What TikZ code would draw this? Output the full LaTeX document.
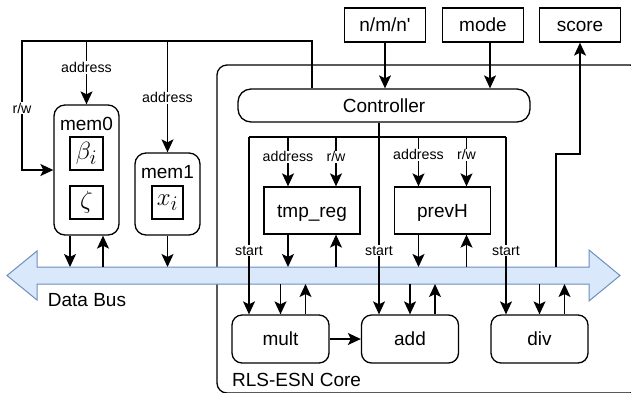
\documentclass[tikz,border=0pt]{standalone}
\usepackage{fontspec}
\setmainfont{Liberation Sans}[Ligatures=TeXOff]
\usepackage{tikz}
\usetikzlibrary{arrows.meta, positioning, calc}

\definecolor{busfill}{HTML}{DAE8FC}
\definecolor{busdraw}{HTML}{6C8EBF}

\begin{document}
\begin{tikzpicture}[
    x=1pt, y=-1pt,
    every node/.style={font=\fontsize{19}{22}\selectfont},
    wire/.style={line width=1.3pt},
    arr/.style={-{Stealth[length=13pt, width=12pt, inset=3pt]}, line width=1.3pt},
    box/.style={rectangle, draw, line width=1.3pt, inner sep=0pt,
                text height=13.6pt, text depth=0pt},
    io/.style={box, minimum width=81pt, minimum height=34pt},
    reg/.style={box, minimum width=96pt, minimum height=47pt},
    unit/.style={box, rounded corners=10pt, minimum width=97pt, minimum height=48pt},
    mem/.style={box, rounded corners=11pt, minimum width=65pt},
    cell/.style={rectangle, draw, line width=1.3pt, minimum size=33pt, inner sep=0pt,
                 font=\fontsize{24.88}{29}\selectfont},
    sig/.style={font=\fontsize{14.2}{16}\selectfont, fill=white, inner sep=1pt}
]
\clip (0,0) rectangle (631,392);

% core frame and data bus
\draw[wire, rounded corners=10pt] (217,65) rectangle (640,393);
\draw[busdraw, fill=busfill, line width=1pt]
    (7,275.5) -- (37,251) -- (37,267) -- (589,267) -- (589,250) -- (620,275.5)
    -- (589,301) -- (589,284) -- (37,284) -- (37,300) -- cycle;
\coordinate (bustop) at (0,267);
\coordinate (busbot) at (0,284);
\node (buslbl) at (87,300) {Data Bus};
\node[anchor=west, inner sep=0pt] (corelbl) at (232,380) {RLS-ESN Core};

% memories
\node[mem, minimum height=130pt] (mem0) at (86.5,170) {};
\node[mem, minimum height=82pt] (mem1) at (167.5,194) {};
\node[text height=13.6pt, text depth=0pt] (mem0lbl) at (86.5,123.5) {mem0};
\node[text height=13.6pt, text depth=0pt] (mem1lbl) at (167.5,171.5) {mem1};
\node[cell] (beta) at (86.5,153.5) {$\beta_i$};
\node[cell] (zeta) at (86.5,202.5) {$\zeta$};
\node[cell, minimum width=31pt] (xi) at (167.5,202.5) {$x_i$};

% controller and io
\node[box, rounded corners=13pt, minimum width=292pt, minimum height=33pt] (ctrl) at (384,105.5) {Controller};
\node[io] (nmn) at (385,25) {n/m/n'};
\node[io] (mode) at (483,25) {mode};
\node[io] (score) at (580,25) {score};

% registers and units
\node[reg] (tmp) at (312,210.5) {tmp\_reg};
\node[reg] (prevh) at (442.5,210.5) {prevH};
\node[unit] (mult) at (280.5,339) {mult};
\node[unit] (add) at (410,339) {add};
\node[unit] (div) at (539.5,339) {div};

% memory control
\coordinate (tl) at (22,41);
\draw[arr] ($(ctrl.north)+(-72,0)$) |- (tl) |- node[sig, pos=0.26]{r/w} (mem0.west);
\draw[arr] (tl -| mem0.north) -- node[sig, pos=0.42]{address} (mem0.north);
\draw[arr] (tl -| mem1.north) -- node[sig, pos=0.51]{address} (mem1.north);

% inputs
\draw[arr] (nmn.south) -- (nmn.south |- ctrl.north);
\coordinate (modeout) at ($(mode.south)+(7,0)$);
\draw[arr] (modeout) -- (modeout |- ctrl.north);

% controller to datapath
\coordinate (bnd) at ($(ctrl.south)+(-5,15)$);
\coordinate (bl) at (249,137);
\coordinate (br) at (506,137);
\draw[wire] (bl) -- (br);
\draw[arr] (bl) -- node[sig, pos=0.64]{start} (bl |- mult.north);
\draw[arr] ($(ctrl.south)+(-5,0)$) -- (bnd) -- node[sig, pos=0.64]{start} (bnd |- add.north);
\draw[arr] (br) -- node[sig, pos=0.64]{start} (br |- div.north);

\coordinate (tmpa) at ($(tmp.north)+(-24,0)$);
\coordinate (tmpw) at ($(tmp.north)+(24,0)$);
\coordinate (preva) at ($(prevh.north)+(-24,0)$);
\coordinate (prevw) at ($(prevh.north)+(24,0)$);
\draw[arr] (tmpa |- bl) -- node[sig, pos=0.4]{address} (tmpa);
\draw[arr] (tmpw |- bl) -- node[sig, pos=0.4]{r/w} (tmpw);
\draw[arr] (preva |- bl) -- node[sig, pos=0.36]{address} (preva);
\draw[arr] (prevw |- bl) -- node[sig, pos=0.36]{r/w} (prevw);

% data bus links
\coordinate (m0o) at ($(mem0.south)+(-16.5,0)$);
\coordinate (m0i) at ($(mem0.south)+(16.5,0)$);
\draw[arr] (m0o) -- (m0o |- bustop);
\draw[arr] (m0i |- bustop) -- (m0i);
\draw[arr] (mem1.south) -- (mem1.south |- bustop);

\coordinate (tmpo) at ($(tmp.south)+(-24,0)$);
\coordinate (tmpi) at ($(tmp.south)+(24,0)$);
\coordinate (prevo) at ($(prevh.south)+(-24,0)$);
\coordinate (previ) at ($(prevh.south)+(24,0)$);
\draw[arr] (tmpo) -- (tmpo |- bustop);
\draw[arr] (tmpi |- bustop) -- (tmpi);
\draw[arr] (prevo) -- (prevo |- bustop);
\draw[arr] (previ |- bustop) -- (previ);

\coordinate (multo) at ($(mult.north)+(25,0)$);
\coordinate (addo) at ($(add.north)+(25,0)$);
\coordinate (divo) at ($(div.north)+(25,0)$);
\draw[arr] (mult.north |- busbot) -- (mult.north);
\draw[arr] (multo) -- (multo |- busbot);
\draw[arr] (add.north |- busbot) -- (add.north);
\draw[arr] (addo) -- (addo |- busbot);
\draw[arr] (div.north |- busbot) -- (div.north);
\draw[arr] (divo) -- (divo |- busbot);
\draw[arr] (mult) -- (add);

% result
\coordinate (sctap) at (556,267);
\draw[arr] (sctap) -- ++(0,-113) -| (score.south);
\end{tikzpicture}
\end{document}
